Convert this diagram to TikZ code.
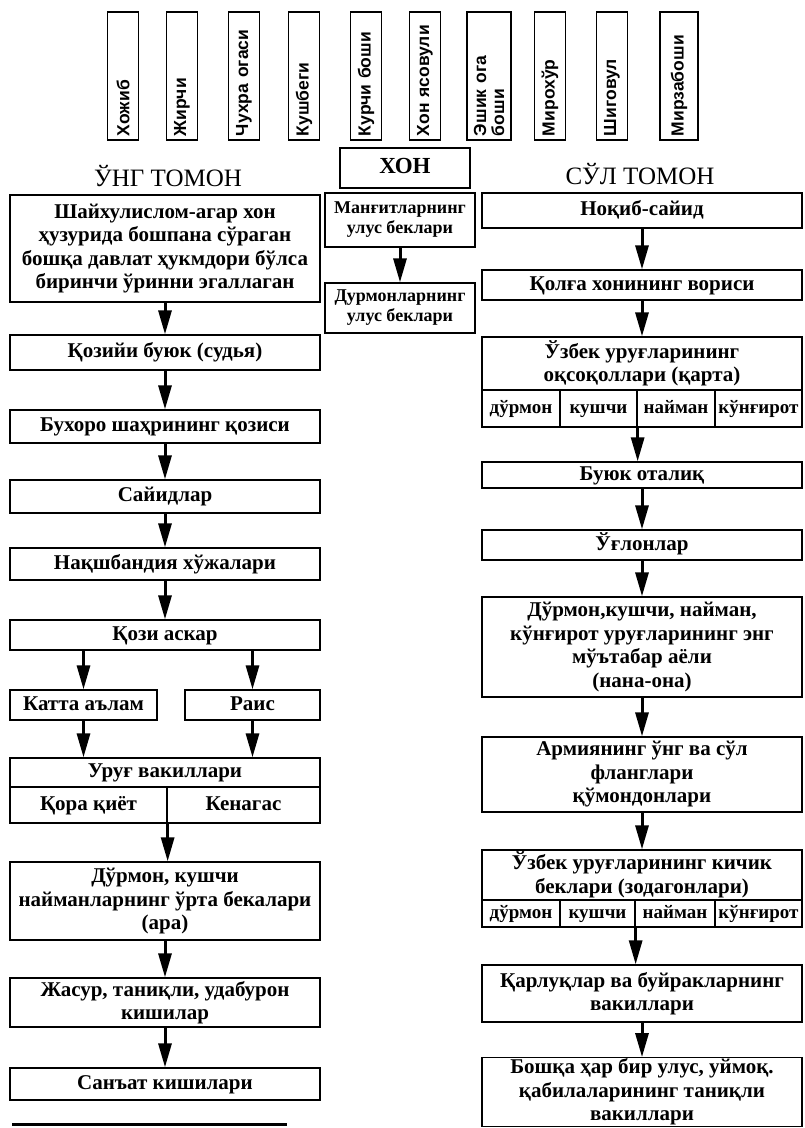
\documentclass[tikz,border=0pt]{standalone}
\usepackage{fontspec}
\setmainfont{Liberation Serif}
\newfontfamily\lavozimfont{Liberation Sans}
\usepackage{tikz}
\usetikzlibrary{positioning,arrows.meta,calc}

\begin{document}
\begin{tikzpicture}[x=1pt,y=-1pt,
    quti/.style={draw, line width=1.3pt, align=center, inner sep=1pt,
        font=\bfseries\fontsize{21}{23.5}\selectfont},
    bir/.style={quti, text height=15pt, text depth=5pt},
    kichik/.style={quti, font=\bfseries\fontsize{18}{20}\selectfont},
    katak/.style={quti, inner sep=0pt, text height=13pt, text depth=4pt,
        font=\bfseries\fontsize{19}{19}\selectfont},
    lavozim/.style={draw, line width=1.3pt, rotate=90, minimum width=128pt,
        minimum height=31pt, text width=120pt, inner xsep=4pt, inner ysep=1pt,
        align=left, font=\lavozimfont\bfseries\fontsize{17.5}{18}\selectfont},
    sarlavha/.style={font=\fontsize{25}{28}\selectfont},
    oq/.style={line width=3pt, -{Triangle[width=13pt,length=24pt]}}]

    \useasboundingbox (0,0) rectangle (804,1128);

    % Saroy lavozimlari
    \node[lavozim] (hojib) at (123,76) {Хожиб};
    \node[lavozim] (jirchi) at (182,76) {Жирчи};
    \node[lavozim] (chuhra) at (244,76) {Чухра огаси};
    \node[lavozim] (qushbegi) at (304,76) {Кушбеги};
    \node[lavozim] (qurchi) at (366,76) {Курчи боши};
    \node[lavozim] (yasovul) at (425,76) {Хон ясовули};
    \node[lavozim, minimum height=44pt] (eshik) at (489,76) {Эшик ога\\боши};
    \node[lavozim] (mirohur) at (550,76) {Мирохўр};
    \node[lavozim] (shigovul) at (612,76) {Шиговул};
    \node[lavozim, minimum height=38pt] (mirza) at (679,76) {Мирзабоши};

    % Sarlavhalar
    \node[sarlavha] (ung) at (168,176) {ЎНГ ТОМОН};
    \node[sarlavha] (sul) at (640,174) {СЎЛ ТОМОН};
    \node[bir, font=\bfseries\fontsize{23}{26}\selectfont, minimum width=130pt, minimum height=40pt] (xon) at (405,168) {ХОН};

    % Ўнг томон
    \node[quti, minimum width=310pt, minimum height=107pt] (shayx) at (165,248.5)
        {Шайхулислом-агар хон\\ҳузурида бошпана сўраган\\бошқа давлат ҳукмдори бўлса\\биринчи ўринни эгаллаган};
    \node[bir, minimum width=310pt, minimum height=35pt] (qozibuyuk) at (165,352.5) {Қозийи буюк (судья)};
    \node[bir, minimum width=310pt, minimum height=33pt] (buxoro) at (165,426.5) {Бухоро шаҳрининг қозиси};
    \node[bir, minimum width=310pt, minimum height=33pt] (sayid) at (165,496.5) {Сайидлар};
    \node[bir, minimum width=310pt, minimum height=32pt] (naqsh) at (165,564) {Нақшбандия хўжалари};
    \node[bir, minimum width=310pt, minimum height=30pt] (qoziaskar) at (165,635) {Қози аскар};
    \node[bir, minimum width=147pt, minimum height=30pt] (katta) at (83.5,705) {Катта аълам};
    \node[bir, minimum width=135pt, minimum height=30pt] (rais) at (252.5,705) {Раис};
    \node[bir, minimum width=310pt, minimum height=29pt] (uruq) at (165,772.5) {Уруғ вакиллари};
    \node[bir, minimum width=157pt, minimum height=36pt] (qora) at (88.5,805) {Қора қиёт};
    \node[bir, minimum width=153pt, minimum height=36pt] (kenagas) at (243.5,805) {Кенагас};
    \node[quti, minimum width=310pt, minimum height=78pt] (urtabek) at (165,901)
        {Дўрмон, кушчи\\найманларнинг ўрта бекалари\\(ара)};
    \node[quti, minimum width=310pt, minimum height=49pt] (jasur) at (165,1002.5)
        {Жасур, таниқли, удабурон\\кишилар};
    \node[bir, minimum width=310pt, minimum height=32pt] (sanat) at (165,1084) {Санъат кишилари};
    \draw[line width=3pt] (12,1124) -- (287,1124);

    \draw[oq] (shayx.south) -- (qozibuyuk.north);
    \draw[oq] (qozibuyuk.south) -- (buxoro.north);
    \draw[oq] (buxoro.south) -- (sayid.north);
    \draw[oq] (sayid.south) -- (naqsh.north);
    \draw[oq] (naqsh.south) -- (qoziaskar.north);
    \draw[oq] (qoziaskar.south -| katta) -- (katta.north);
    \draw[oq] (qoziaskar.south -| rais) -- (rais.north);
    \draw[oq] (katta.south) -- (katta.south |- uruq.north);
    \draw[oq] (rais.south) -- (rais.south |- uruq.north);
    \draw[oq] (qora.south east) -- (qora.south east |- urtabek.north);
    \draw[oq] (urtabek.south) -- (jasur.north);
    \draw[oq] (jasur.south) -- (sanat.north);

    % Хон остида
    \node[kichik, minimum width=150pt, minimum height=54pt] (mangit) at (400,220) {Манғитларнинг\\улус беклари};
    \node[kichik, minimum width=150pt, minimum height=50pt] (durmonbek) at (400,308) {Дурмонларнинг\\улус беклари};
    \draw[oq] (mangit.south) -- (durmonbek.north);

    % Сўл томон
    \node[bir, minimum width=320pt, minimum height=35pt] (noqib) at (642,210.5) {Ноқиб-сайид};
    \node[bir, minimum width=320pt, minimum height=30pt] (qolga) at (642,285) {Қолға хонининг вориси};
    \node[quti, minimum width=320pt, minimum height=53pt] (oqsoqol) at (642,363.5)
        {Ўзбек уруғларининг\\оқсоқоллари (қарта)};
    \node[katak, minimum width=78pt, minimum height=37pt] (d1) at (521,408.5) {дўрмон};
    \node[katak, minimum width=77pt, minimum height=37pt] (k1) at (598.5,408.5) {кушчи};
    \node[katak, minimum width=78pt, minimum height=37pt] (n1) at (676,408.5) {найман};
    \node[katak, minimum width=87pt, minimum height=37pt] (q1) at (758.5,408.5) {кўнғирот};
    \node[bir, minimum width=320pt, minimum height=26pt] (otaliq) at (642,475) {Буюк оталиқ};
    \node[bir, minimum width=320pt, minimum height=30pt] (uglon) at (642,545) {Ўғлонлар};
    \node[quti, minimum width=320pt, minimum height=100pt] (nana) at (642,647)
        {Дўрмон,кушчи, найман,\\кўнғирот уруғларининг энг\\мўътабар аёли\\(нана-она)};
    \node[quti, minimum width=320pt, minimum height=75pt] (armiya) at (642,774.5)
        {Армиянинг ўнг ва сўл\\фланглари\\қўмондонлари};
    \node[quti, minimum width=320pt, minimum height=50pt] (zodagon) at (642,875)
        {Ўзбек уруғларининг кичик\\беклари (зодагонлари)};
    \node[katak, minimum width=78pt, minimum height=27pt] (d2) at (521,913.5) {дўрмон};
    \node[katak, minimum width=75pt, minimum height=27pt] (k2) at (597.5,913.5) {кушчи};
    \node[katak, minimum width=80pt, minimum height=27pt] (n2) at (675,913.5) {найман};
    \node[katak, minimum width=87pt, minimum height=27pt] (q2) at (758.5,913.5) {кўнғирот};
    \node[quti, minimum width=320pt, minimum height=57pt] (qarluq) at (642,993.5)
        {Қарлуқлар ва буйракларнинг\\вакиллари};
    \node[quti, minimum width=320pt, minimum height=68pt] (boshqa) at (642,1092)
        {Бошқа ҳар бир улус, уймоқ.\\қабилаларининг таниқли\\вакиллари};

    \draw[oq] (noqib.south) -- (qolga.north);
    \draw[oq] (qolga.south) -- (oqsoqol.north);
    \draw[oq] (k1.south east) -- (k1.south east |- otaliq.north);
    \draw[oq] (otaliq.south) -- (uglon.north);
    \draw[oq] (uglon.south) -- (nana.north);
    \draw[oq] (nana.south) -- (armiya.north);
    \draw[oq] (armiya.south) -- (zodagon.north);
    \draw[oq] (k2.south east) -- (k2.south east |- qarluq.north);
    \draw[oq] (qarluq.south) -- (boshqa.north);
\end{tikzpicture}
\end{document}
